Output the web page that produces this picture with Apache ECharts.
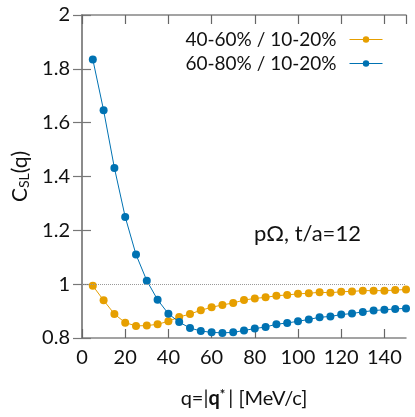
<!DOCTYPE html>
<html>
<head>
<meta charset="utf-8">
<script src="https://cdn.jsdelivr.net/npm/echarts@6/dist/echarts.min.js"></script>
<style>
  html, body { margin: 0; padding: 0; background: #fff; }
  #chart { width: 415px; height: 417px; }
</style>
</head>
<body>
<div id="chart"></div>
<script>
// q values (MeV/c)
const qValues = [5, 10, 15, 20, 25, 30, 35, 40, 45, 50, 55, 60, 65, 70, 75,
  80, 85, 90, 95, 100, 105, 110, 115, 120, 125, 130, 135, 140, 145, 150];
// 40-60% / 10-20%
const ratio4060 = [0.994, 0.940, 0.889, 0.857, 0.845, 0.846, 0.851, 0.862, 0.878, 0.889,
  0.903, 0.914, 0.923, 0.930, 0.941, 0.947, 0.951, 0.957, 0.960, 0.964,
  0.966, 0.970, 0.968, 0.972, 0.973, 0.976, 0.976, 0.976, 0.978, 0.980];
// 60-80% / 10-20%
const ratio6080 = [1.835, 1.646, 1.432, 1.250, 1.110, 1.013, 0.942, 0.890, 0.859, 0.837,
  0.826, 0.821, 0.819, 0.821, 0.828, 0.835, 0.841, 0.851, 0.856, 0.862,
  0.869, 0.877, 0.880, 0.887, 0.891, 0.897, 0.902, 0.905, 0.908, 0.910];
const seriesNames = ['40-60% / 10-20%', '60-80% / 10-20%'];
const colors = ['#e69f00', '#0072b2'];

const FONT = 'Lato';
const axisGray = '#858585';

function pairs(ys) {
  return qValues.map((q, i) => [q, ys[i]]);
}

const chart = echarts.init(document.getElementById('chart'));

const xBase = {
  type: 'value', min: 0, max: 150, interval: 20,
  axisLine: { show: true, lineStyle: { color: axisGray, width: 1.5 } },
  axisTick: { show: true, inside: true, length: 9, lineStyle: { color: '#666', width: 1.2 } },
  splitLine: { show: false }
};
const yBase = {
  type: 'value', min: 0.8, max: 2, interval: 0.2,
  axisLine: { show: true, lineStyle: { color: axisGray, width: 1.5 } },
  axisTick: { show: true, inside: true, length: 9, lineStyle: { color: '#777', width: 1.2 } },
  splitLine: { show: false }
};

const option = {
  animation: false,
  color: colors,
  textStyle: { fontFamily: FONT },
  grid: { left: 82, right: 9, top: 15, bottom: 79 },
  legend: {
    right: 27, top: 25,
    orient: 'vertical',
    align: 'right',
    itemWidth: 33, itemHeight: 8, itemGap: 5,
    lineStyle: { width: 1 },
    textStyle: { fontFamily: FONT, fontSize: 19, color: '#111', padding: [0, 8, 0, 0] },
    data: seriesNames
  },
  xAxis: [
    Object.assign({}, xBase, {
      position: 'bottom',
      name: '{t|q=|}{b|q}{sup|*}{t|| [MeV/c]}',
      nameLocation: 'middle', nameGap: 50,
      nameTextStyle: {
        rich: {
          t: { fontFamily: FONT, fontSize: 20, color: '#111' },
          b: { fontFamily: FONT, fontSize: 20, color: '#111', fontWeight: 'bold' },
          sup: { fontFamily: FONT, fontSize: 13, color: '#111', fontWeight: 'bold', verticalAlign: 'top', padding: [0, 3, 9, 0] }
        }
      },
      axisLabel: { fontFamily: FONT, fontSize: 20, color: '#111', margin: 10, showMaxLabel: false }
    }),
    Object.assign({}, xBase, { position: 'top', axisLabel: { show: false } })
  ],
  yAxis: [
    Object.assign({}, yBase, {
      position: 'left',
      name: '{c|C}{s|SL}{c|(q)}',
      nameLocation: 'middle', nameGap: 45,
      nameTextStyle: {
        rich: {
          c: { fontFamily: FONT, fontSize: 21, color: '#111' },
          s: { fontFamily: FONT, fontSize: 14, color: '#111', verticalAlign: 'bottom', padding: [7, 0, 0, 0] }
        }
      },
      axisLabel: {
        fontFamily: FONT, fontSize: 20, color: '#111', margin: 12,
        formatter: v => String(+v.toFixed(1))
      }
    }),
    Object.assign({}, yBase, { position: 'right', axisLabel: { show: false } })
  ],
  graphic: [{
    type: 'text', left: 254, top: 223,
    style: { text: 'pΩ, t/a=12', fontFamily: FONT, fontSize: 22, fill: '#111' }
  }],
  series: [
    {
      name: seriesNames[0], type: 'line', data: pairs(ratio4060),
      symbol: 'circle', symbolSize: 8,
      lineStyle: { width: 1 },
      markLine: {
        silent: true, symbol: 'none', label: { show: false },
        lineStyle: { type: 'dotted', color: '#999', width: 1 },
        data: [{ yAxis: 1 }]
      },
      z: 3
    },
    {
      name: seriesNames[1], type: 'line', data: pairs(ratio6080),
      symbol: 'circle', symbolSize: 8,
      lineStyle: { width: 1 },
      z: 4
    }
  ]
};

chart.setOption(option);
</script>
</body>
</html>
